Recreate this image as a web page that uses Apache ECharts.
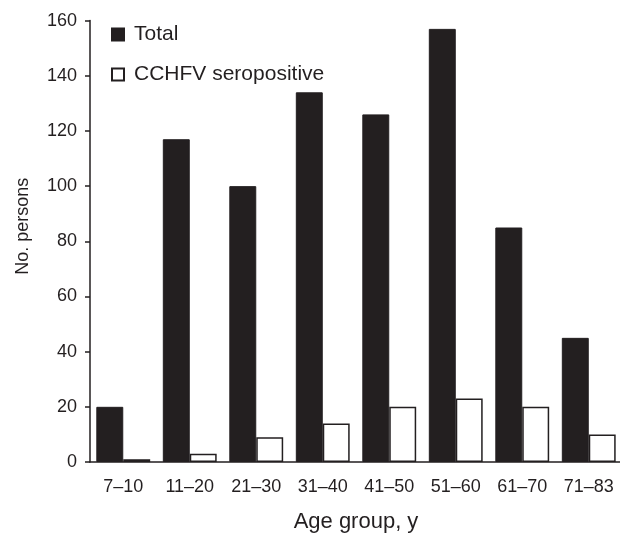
<!DOCTYPE html>
<html>
<head>
<meta charset="utf-8">
<script src="https://cdn.jsdelivr.net/npm/echarts@6/dist/echarts.min.js"></script>
<style>
  html, body { margin: 0; padding: 0; background: #fff; }
  #chart { width: 620px; height: 535px; }
</style>
</head>
<body>
<div id="chart"></div>
<script>
// age groups and counts
var ageGroups = ['7–10', '11–20', '21–30', '31–40', '41–50', '51–60', '61–70', '71–83'];
var totalCounts = [20, 117, 100, 134, 126, 157, 85, 45];
var seroCounts = [1, 3, 9, 14, 20, 23, 20, 10];
var yTicks = [0, 20, 40, 60, 80, 100, 120, 140, 160];

var ink = '#231f20';
var font = 'Liberation Sans, Arial, sans-serif';

var myChart = echarts.init(document.getElementById('chart'));
var option = {
    backgroundColor: '#fff',
    animation: false,
    textStyle: { fontFamily: font, color: ink },
    grid: {
        left: 90,
        top: 20.6,
        width: 532,
        bottom: 73,
        outerBoundsMode: 'none',
        containLabel: false
    },
    legend: {
        orient: 'vertical',
        left: 111,
        top: 24,
        padding: 0,
        itemWidth: 12,
        itemHeight: 12,
        itemGap: 19,
        icon: 'rect',
        textStyle: { fontSize: 21, color: ink, fontFamily: font, padding: [0, 0, 0, 5] },
        data: ['Total', 'CCHFV seropositive']
    },
    xAxis: {
        type: 'category',
        data: ageGroups,
        name: 'Age group, y',
        nameLocation: 'middle',
        nameGap: 49,
        nameTextStyle: { fontSize: 22, color: ink },
        axisLine: { lineStyle: { color: ink, width: 1.5 } },
        axisTick: { show: false },
        axisLabel: { fontSize: 18, color: ink, margin: 16 }
    },
    yAxis: {
        type: 'value',
        min: yTicks[0],
        max: yTicks[yTicks.length - 1],
        interval: 20,
        name: 'No. persons',
        nameLocation: 'middle',
        nameGap: 58,
        nameRotate: 90,
        nameTextStyle: { fontSize: 18, color: ink, padding: [0, 0, 0, 30] },
        axisLine: { show: true, lineStyle: { color: ink, width: 1.5 } },
        axisTick: { show: true, inside: false, length: 5, lineStyle: { color: ink, width: 1.5 } },
        axisLabel: { fontSize: 18, color: ink, margin: 13 },
        splitLine: { show: false }
    },
    series: [
        {
            name: 'Total',
            type: 'bar',
            data: totalCounts,
            barGap: '0%',
            barCategoryGap: '19%',
            itemStyle: { color: ink, borderColor: ink, borderWidth: 1 }
        },
        {
            name: 'CCHFV seropositive',
            type: 'bar',
            data: seroCounts,
            itemStyle: { color: '#fff', borderColor: ink, borderWidth: 1.5 }
        }
    ]
};
if (option && typeof option === 'object') {
    myChart.setOption(option, true);
}
</script>
</body>
</html>
